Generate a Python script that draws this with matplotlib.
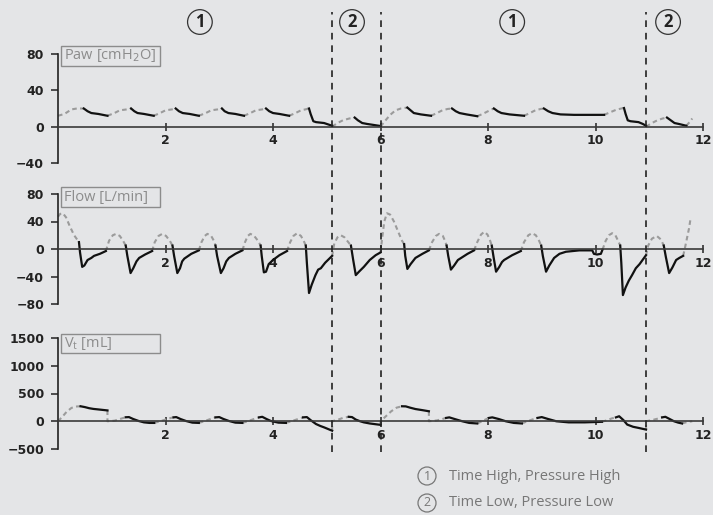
import matplotlib
matplotlib.use('Agg')

import matplotlib.pyplot as plt
from matplotlib.patches import Rectangle

plt.rcParams['font.family'] = ['Open Sans', 'DejaVu Sans']

# ── Data (time in s) ──────────────────────────────────────────────────────────
X_TICKS = [2, 4, 6, 8, 10, 12]
PHASE_BOUNDS = [5.1, 6.0, 10.94]
PHASE_MARKS = [(2.64, '1'), (5.47, '2'), (8.45, '1'), (11.35, '2')]
LEGEND_ITEMS = [('1', 'Time High, Pressure High'), ('2', 'Time Low, Pressure Low')]

# Paw [cmH2O] — inspiration (grey dashed) / expiration (black) per breath
PAW_INSP = [
    [(0.0, 12), (0.12, 14), (0.25, 19), (0.35, 20), (0.48, 20)],
    [(0.92, 12), (1.05, 15), (1.15, 18), (1.28, 19), (1.36, 20)],
    [(1.78, 12), (1.9, 15), (2.0, 18), (2.12, 19), (2.19, 20)],
    [(2.62, 12), (2.75, 15), (2.85, 18), (2.97, 19), (3.05, 20)],
    [(3.46, 12), (3.58, 15), (3.68, 18), (3.8, 19), (3.87, 20)],
    [(4.3, 12), (4.42, 15), (4.52, 18), (4.6, 19), (4.67, 20)],
    [(5.1, 0), (5.2, 4), (5.3, 7), (5.42, 9), (5.52, 10)],
    [(6.0, 0), (6.08, 6), (6.18, 13), (6.28, 18), (6.38, 20), (6.5, 21)],
    [(6.94, 12), (7.05, 15), (7.15, 18), (7.25, 19.5), (7.33, 20)],
    [(7.8, 11.5), (7.9, 14), (8.0, 17), (8.07, 19), (8.11, 20)],
    [(8.67, 12), (8.78, 15), (8.88, 18), (8.98, 19.5), (9.04, 20)],
    [(10.16, 13), (10.28, 16), (10.38, 18.5), (10.48, 20), (10.53, 20.5)],
    [(10.94, 0), (11.05, 4), (11.15, 7), (11.25, 9), (11.33, 10)],
    [(11.69, 1), (11.75, 5), (11.8, 9)],
]
PAW_EXP = [
    [(0.48, 20), (0.55, 17), (0.62, 15), (0.75, 14), (0.92, 12)],
    [(1.36, 20), (1.42, 17), (1.48, 15), (1.6, 14), (1.78, 12)],
    [(2.19, 20), (2.25, 17), (2.32, 15), (2.45, 14), (2.62, 12)],
    [(3.05, 20), (3.1, 17), (3.17, 15), (3.3, 14), (3.46, 12)],
    [(3.87, 20), (3.93, 17), (4.0, 15), (4.12, 14), (4.3, 12)],
    [(4.67, 20), (4.7, 14), (4.75, 6), (4.8, 5), (4.95, 4), (5.1, 1)],
    [(5.52, 10), (5.58, 7), (5.66, 4), (5.75, 3), (5.97, 1)],
    [(6.5, 21), (6.56, 18), (6.62, 15), (6.75, 13.5), (6.94, 12)],
    [(7.33, 20), (7.4, 17), (7.47, 15), (7.6, 13.5), (7.8, 11.5)],
    [(8.11, 20), (8.18, 17), (8.25, 15), (8.4, 13.5), (8.67, 12)],
    [(9.04, 20), (9.12, 17), (9.2, 15), (9.35, 13.5), (9.6, 13), (9.9, 13), (10.16, 13)],
    [(10.53, 20.5), (10.56, 14), (10.6, 7), (10.65, 6), (10.8, 5), (10.88, 3), (10.94, 1)],
    [(11.33, 10), (11.4, 7), (11.47, 4), (11.55, 3), (11.69, 1)],
]

# Flow [L/min]
FLOW_INSP = [
    [(0.0, 47), (0.04, 51), (0.09, 52), (0.15, 46), (0.22, 33), (0.3, 20), (0.39, 10)],
    [(0.89, -3), (0.95, 12), (1.02, 20), (1.08, 22), (1.15, 19), (1.21, 12), (1.26, 5)],
    [(1.75, -3), (1.8, 10), (1.87, 19), (1.94, 22), (2.01, 19), (2.08, 12), (2.13, 5)],
    [(2.62, -2), (2.67, 10), (2.73, 19), (2.78, 22), (2.85, 19), (2.9, 12), (2.93, 5)],
    [(3.43, -2), (3.48, 10), (3.53, 19), (3.58, 22), (3.65, 19), (3.72, 12), (3.77, 5)],
    [(4.26, -3), (4.32, 10), (4.38, 19), (4.45, 23), (4.52, 19), (4.57, 12), (4.61, 5)],
    [(5.1, -10), (5.14, 8), (5.2, 17), (5.26, 20), (5.33, 17), (5.4, 10), (5.45, 5)],
    [(6.0, -5), (6.03, 15), (6.07, 40), (6.12, 52), (6.18, 50), (6.25, 40), (6.33, 25),
     (6.4, 12), (6.44, 7)],
    [(6.9, -2), (6.96, 10), (7.03, 19), (7.09, 22), (7.16, 19), (7.2, 12), (7.23, 5)],
    [(7.74, -2), (7.8, 10), (7.87, 21), (7.93, 25), (7.99, 21), (8.04, 12), (8.07, 5)],
    [(8.61, -3), (8.67, 10), (8.75, 20), (8.82, 23), (8.89, 20), (8.95, 12), (8.99, 5)],
    [(10.13, -1), (10.19, 12), (10.25, 20), (10.31, 23), (10.37, 20), (10.42, 12), (10.46, 5)],
    [(10.94, -9), (10.98, 5), (11.05, 15), (11.14, 19), (11.2, 15), (11.24, 10), (11.27, 5)],
    [(11.63, -10), (11.66, 0), (11.7, 15), (11.74, 30), (11.77, 45)],
]
FLOW_EXP = [
    [(0.39, 10), (0.41, -5), (0.45, -26), (0.49, -24), (0.55, -16), (0.62, -13), (0.67, -10),
     (0.78, -7), (0.89, -3)],
    [(1.26, 5), (1.29, -10), (1.35, -35), (1.4, -28), (1.46, -18), (1.51, -13), (1.62, -8),
     (1.75, -3)],
    [(2.13, 5), (2.16, -10), (2.22, -35), (2.27, -28), (2.31, -18), (2.35, -14), (2.48, -7),
     (2.62, -2)],
    [(2.93, 5), (2.96, -10), (3.03, -35), (3.08, -28), (3.13, -18), (3.18, -13), (3.3, -7),
     (3.43, -2)],
    [(3.77, 5), (3.79, -10), (3.83, -34), (3.87, -33), (3.92, -22), (4.0, -16), (4.12, -9),
     (4.26, -3)],
    [(4.61, 5), (4.63, -20), (4.67, -64), (4.72, -52), (4.79, -38), (4.84, -30), (4.89, -28),
     (4.97, -20), (5.1, -10)],
    [(5.45, 5), (5.49, -15), (5.54, -38), (5.6, -33), (5.69, -26), (5.8, -16), (5.91, -9),
     (6.0, -5)],
    [(6.44, 7), (6.46, -10), (6.5, -29), (6.56, -22), (6.65, -13), (6.78, -7), (6.9, -2)],
    [(7.23, 5), (7.26, -10), (7.31, -30), (7.37, -24), (7.44, -16), (7.5, -13), (7.62, -7),
     (7.74, -2)],
    [(8.07, 5), (8.1, -10), (8.15, -33), (8.21, -26), (8.26, -19), (8.3, -16), (8.45, -9),
     (8.61, -3)],
    [(8.99, 5), (9.02, -10), (9.08, -33), (9.14, -24), (9.23, -13), (9.33, -7), (9.45, -4),
     (9.7, -2), (9.94, -2), (9.97, -7), (10.03, -8), (10.1, -7), (10.13, -1)],
    [(10.46, 5), (10.48, -20), (10.51, -67), (10.56, -56), (10.62, -46), (10.68, -38),
     (10.75, -28), (10.82, -22), (10.94, -9)],
    [(11.27, 5), (11.31, -12), (11.37, -35), (11.43, -27), (11.5, -16), (11.56, -13),
     (11.63, -10)],
]

# Vt [mL]
VT_INSP = [
    [(0.0, 0), (0.08, 80), (0.16, 170), (0.25, 240), (0.33, 265), (0.42, 270)],
    [(0.92, 195), (0.92, 0), (1.05, 10), (1.15, 40), (1.26, 72)],
    [(1.79, -30), (1.9, 0), (2.0, 30), (2.1, 60), (2.15, 70)],
    [(2.62, -30), (2.72, 0), (2.82, 35), (2.93, 70)],
    [(3.43, -30), (3.53, 0), (3.63, 35), (3.74, 70)],
    [(4.24, -30), (4.34, 0), (4.45, 35), (4.56, 70)],
    [(5.1, -170), (5.1, 0), (5.2, 25), (5.3, 60), (5.41, 80)],
    [(6.0, -65), (6.0, 0), (6.1, 90), (6.2, 180), (6.3, 245), (6.4, 270)],
    [(6.9, 180), (6.9, 0), (7.05, 15), (7.15, 40), (7.22, 60)],
    [(7.8, -40), (7.88, -5), (7.95, 30), (8.02, 60)],
    [(8.63, -40), (8.72, -5), (8.82, 30), (8.92, 60)],
    [(10.12, -10), (10.22, 20), (10.3, 50), (10.38, 70)],
    [(10.94, -150), (10.94, 0), (11.05, 20), (11.15, 45), (11.24, 70)],
    [(11.61, -40), (11.7, -15), (11.8, 0)],
]
VT_EXP = [
    [(0.42, 270), (0.5, 255), (0.58, 235), (0.66, 222), (0.73, 215), (0.92, 195)],
    [(1.26, 72), (1.32, 75), (1.4, 40), (1.5, 5), (1.6, -20), (1.7, -30), (1.79, -30)],
    [(2.15, 70), (2.2, 75), (2.28, 40), (2.38, 5), (2.5, -25), (2.62, -30)],
    [(2.93, 70), (3.0, 75), (3.08, 40), (3.18, 5), (3.3, -25), (3.43, -30)],
    [(3.74, 70), (3.8, 80), (3.88, 40), (3.96, 5), (4.1, -25), (4.24, -30)],
    [(4.56, 70), (4.63, 75), (4.7, 20), (4.8, -50), (4.88, -85), (4.95, -110), (5.1, -170)],
    [(5.41, 80), (5.47, 75), (5.54, 30), (5.62, 0), (5.69, -20), (5.8, -40), (6.0, -65)],
    [(6.4, 270), (6.47, 268), (6.55, 245), (6.65, 220), (6.78, 200), (6.9, 180)],
    [(7.22, 60), (7.28, 70), (7.38, 40), (7.52, 0), (7.65, -30), (7.8, -40)],
    [(8.02, 60), (8.08, 70), (8.2, 40), (8.33, 0), (8.48, -30), (8.63, -40)],
    [(8.92, 60), (9.0, 75), (9.12, 40), (9.27, 0), (9.5, -20), (9.8, -20), (10.12, -10)],
    [(10.38, 70), (10.44, 90), (10.52, 20), (10.59, -60), (10.7, -100), (10.8, -120),
     (10.94, -150)],
    [(11.24, 70), (11.3, 80), (11.38, 40), (11.46, 0), (11.54, -25), (11.61, -40)],
]

PANELS = [
    ('Paw [cmH$_2$O]', [-40, 0, 40, 80], PAW_INSP, PAW_EXP),
    ('Flow [L/min]', [-80, -40, 0, 40, 80], FLOW_INSP, FLOW_EXP),
    ('V$_\\mathregular{t}$ [mL]', [-500, 0, 500, 1000, 1500], VT_INSP, VT_EXP),
]

# ── Layout (pixels of a 713x515 figure) ───────────────────────────────────────
W, H = 713, 515
BG = '#e4e5e7'
X0, X1 = 58, 703
PANEL_Y = [(54, 163), (194, 304), (338, 449)]   # top, bottom pixel of each axis
BOX_Y = [(46, 66), (187, 207), (334, 353)]

fig = plt.figure(figsize=(W / 100, H / 100), dpi=100, facecolor=BG)


def fx(px):
    return px / W


def fy(py):
    return 1 - py / H


for (label, yticks, insp, exp), (top, bot), (btop, bbot) in zip(PANELS, PANEL_Y, BOX_Y):
    ax = fig.add_axes([fx(X0), fy(bot), fx(X1 - X0), (bot - top) / H])
    ax.set_facecolor('none')
    for s in ('top', 'right'):
        ax.spines[s].set_visible(False)
    ax.spines['bottom'].set_position(('data', 0))
    ax.spines['bottom'].set_color('#3a3a3a')
    ax.spines['bottom'].set_linewidth(1.2)
    ax.spines['left'].set_color('#222222')
    ax.spines['left'].set_linewidth(1.2)
    ax.set_xlim(0, 12)
    ax.set_ylim(yticks[0], yticks[-1])
    ax.set_xticks(X_TICKS)
    ax.set_yticks(yticks)
    ax.tick_params(axis='x', direction='inout', length=6, width=1.1, pad=2.5,
                   colors='#222222', labelsize=9)
    ax.tick_params(axis='y', direction='out', length=5, width=1.1, pad=5,
                   colors='#222222', labelsize=9)
    for t in ax.get_xticklabels() + ax.get_yticklabels():
        t.set_fontweight('bold')
        t.set_family('DejaVu Sans')

    for pts in insp:
        t, v = zip(*pts)
        ax.plot(t, v, color='#9b9b9b', lw=1.5, dashes=(2.2, 1.6), solid_capstyle='butt',
                clip_on=False)
    for pts in exp:
        t, v = zip(*pts)
        ax.plot(t, v, color='#111111', lw=1.6, clip_on=False)

    # label box
    fig.patches.append(Rectangle((fx(61), fy(bbot)), fx(160 - 61), (bbot - btop) / H,
                                 transform=fig.transFigure, fc='none', ec='#8c8c8c',
                                 lw=1.0))
    fig.text(fx(64), fy((btop + bbot) / 2), label, color='#8c8c8c', fontsize=10.5,
             ha='left', va='center')

# ── Phase boundaries and markers ──────────────────────────────────────────────
ov = fig.add_axes([fx(X0), fy(452), fx(X1 - X0), (452 - 12) / H])
ov.axis('off')
ov.set_xlim(0, 12)
ov.set_ylim(0, 1)
for b in PHASE_BOUNDS:
    ov.axvline(b, color='#222222', lw=1.2, dashes=(4, 3.5))
for x, num in PHASE_MARKS:
    ov.text(x, (452 - 22) / 440, num, ha='center', va='center', fontsize=12,
            fontweight='bold', color='#222222',
            bbox=dict(boxstyle='circle,pad=0.2', fc='none', ec='#333333', lw=0.9))

# ── Legend ────────────────────────────────────────────────────────────────────
for i, (num, text) in enumerate(LEGEND_ITEMS):
    y = fy(476 + i * 27)
    fig.text(fx(427), y, num, ha='center', va='center', fontsize=9, color='#777777',
             bbox=dict(boxstyle='circle,pad=0.2', fc='none', ec='#777777', lw=0.9))
    fig.text(fx(449), y, text, ha='left', va='center', fontsize=10.5, color='#777777')

fig.savefig('out.png', dpi=100, facecolor=BG)
